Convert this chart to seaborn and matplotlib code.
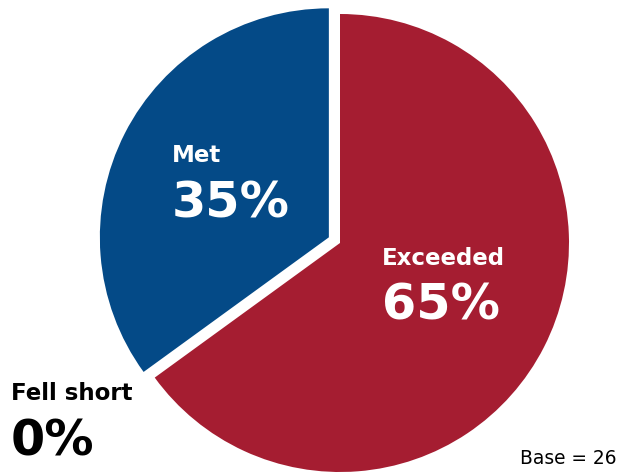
import matplotlib
matplotlib.use("Agg")
import matplotlib.pyplot as plt
import seaborn as sns

categories = ["Exceeded", "Met", "Fell short"]
values = [65, 35, 0]
colors = ["#A51D31", "#044A87", "#7F7F7F"]
base_n = 26

sns.set_theme(style="white")
plt.rcParams["font.family"] = ["DejaVu Sans"]

W, H = 618, 474
fig = plt.figure(figsize=(W / 100, H / 100), dpi=100)
ax = fig.add_axes([0, 0, 1, 1])

# pie drawn in pixel-like coordinates (y down)
ax.pie(values, colors=colors, startangle=-90, counterclock=True,
       center=(340, 243), radius=229, explode=[0, 12.5, 0],
       wedgeprops=dict(linewidth=0), frame=True)
ax.set_xlim(0, W)
ax.set_ylim(H, 0)
ax.set_aspect("equal")
ax.axis("off")

pos = {"Exceeded": (382, 265, "white"), "Met": (172, 162, "white"), "Fell short": (11, 400, "black")}
for cat, val in zip(categories, values):
    x, y, c = pos[cat]
    ax.text(x, y, cat, fontsize=16.5, fontweight="bold", color=c, va="baseline", ha="left")
    ax.text(x, y + 55, f"{val}%", fontsize=35.5, fontweight="bold", color=c, va="baseline", ha="left")

ax.text(617, 464, f"Base = {base_n}", fontsize=13.4, color="black", va="baseline", ha="right")

fig.savefig("out.png", dpi=100)
